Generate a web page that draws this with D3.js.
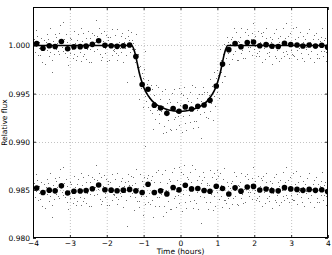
<!DOCTYPE html>
<html><head><meta charset="utf-8">
<script src="https://cdn.jsdelivr.net/npm/d3@7"></script>
<style>
body{margin:0;background:#fff}
svg{display:block}
text{font-family:"DejaVu Sans",sans-serif}
</style>
</head><body>
<svg id="c" width="332" height="255"></svg>
<script>
// ---- data ----
const binTimes = [-3.90,-3.73,-3.56,-3.40,-3.23,-3.06,-2.89,-2.72,-2.56,-2.39,-2.22,-2.05,-1.88,-1.72,-1.55,-1.38,
  -1.21,-1.04,-0.88,-0.71,-0.54,-0.37,-0.20,-0.04,0.13,0.30,0.47,0.64,0.80,0.97,1.14,1.31,
  1.48,1.64,1.81,1.98,2.15,2.32,2.48,2.65,2.82,2.99,3.16,3.32,3.49,3.66,3.83,3.99];
// binned relative flux (light curve)
const binFlux = [1.00020,0.99972,0.99997,0.99990,1.00042,0.99967,0.99986,0.99988,0.99993,1.00012,1.00050,1.00002,0.99997,0.99991,0.99997,1.00005,
  0.99885,0.99595,0.99545,0.99380,0.99350,0.99295,0.99345,0.99317,0.99362,0.99340,0.99368,0.99382,0.99430,0.99580,0.99807,0.99957,
  1.00021,0.99987,1.00030,1.00036,0.99998,1.00009,0.99992,0.99990,1.00023,1.00010,1.00005,0.99995,1.00005,0.99995,1.00002,0.99983];
// binned residuals (offset to 0.985)
const binResid = [0.98520,0.98472,0.98497,0.98490,0.98542,0.98467,0.98486,0.98488,0.98493,0.98512,0.98550,0.98502,0.98497,0.98491,0.98497,0.98505,
  0.98490,0.98472,0.98559,0.98472,0.98490,0.98458,0.98524,0.98500,0.98548,0.98510,0.98514,0.98493,0.98486,0.98538,0.98514,0.98457,
  0.98521,0.98487,0.98530,0.98536,0.98498,0.98509,0.98492,0.98490,0.98523,0.98510,0.98505,0.98495,0.98505,0.98495,0.98502,0.98483];
// transit model
const modelTimes = [-4.00,-1.32,-1.27,-1.22,-1.17,-1.12,-1.07,-1.02,-0.95,-0.87,-0.77,-0.65,-0.50,-0.32,-0.02,
  0.28,0.46,0.61,0.73,0.83,0.91,0.98,1.03,1.08,1.13,1.18,1.23,1.28,4.00];
const modelFlux = [1.00000,1.00000,0.99965,0.99900,0.99810,0.99720,0.99650,0.99590,0.99525,0.99475,0.99425,0.99385,0.99355,0.99330,0.99315,
  0.99330,0.99355,0.99385,0.99425,0.99475,0.99525,0.99590,0.99650,0.99720,0.99810,0.99900,0.99965,1.00000,1.00000];
// unbinned scatter about each bin (units of 1e-4)
const scatterDev = [
  [5,-9,14,-3,8,-12,2,-5],[-7,11,-14,3,-2,9,-16,6],[12,-4,7,-11,18,-6,-1,-15],[-27,6,-8,13,-3,10,4,-5],
  [9,-13,17,1,-6,20,-10,3],[-4,15,-9,7,-17,2,11,-5],[8,-2,-12,16,-7,4,-14,7],[-10,13,3,-6,19,-15,6,-10],
  [14,-8,1,-13,9,-3,16,-16],[-5,7,-18,12,-1,10,-7,2],[21,-9,5,-4,13,-14,8,-20],[-12,4,15,-8,-3,11,-16,9],
  [6,-15,9,2,-10,17,-4,-5],[-3,12,-7,-14,18,-9,5,-2],[10,-6,13,-17,4,-2,8,-10],[-38,9,16,5,-7,14,-4,5],
  [14,-20,8,-6,23,-11,3,-11],[-15,19,-4,12,-23,7,16,-12],[40,-12,6,-18,10,-9,-21,4],[-8,17,-25,11,3,-14,21,-5],
  [22,-6,-16,9,-3,18,-26,2],[-13,25,4,-19,11,-7,15,-16],[7,-22,16,3,-11,20,-9,-4],[-18,10,-5,24,-14,6,19,-22],
  [12,-9,21,-17,2,-24,9,6],[-6,18,-13,7,25,-20,1,-12],[20,-15,9,-4,-21,13,-8,6],[-34,11,19,-7,14,3,-12,6],
  [9,-18,6,22,-11,-3,15,-20],[-10,14,-21,8,17,-6,11,-13],[16,-8,4,-19,10,-12,21,-12],[-9,13,-4,8,-15,6,11,-10],
  [7,-11,16,-2,-8,12,-17,3],[-14,5,10,-7,19,-3,-12,2],[11,-16,2,14,-5,8,-9,-5],[3,9,-13,20,-7,-4,6,-14],
  [-8,15,-6,-11,4,13,-17,10],[13,-3,-15,7,17,-9,2,-12],[-6,10,4,-18,8,-2,14,-10],[18,-12,-4,9,-15,5,11,-12],
  [-2,-9,16,-13,6,21,-8,-11],[9,-14,3,12,-6,-10,17,-11],[-11,6,19,-5,-15,8,-3,1],[15,-7,-12,4,10,-16,7,-1],
  [-4,12,-9,17,-13,3,-6,0],[7,-17,11,-2,14,-8,-12,7],[-13,4,9,-6,18,-11,5,-6],[10,-5,-14,13,-3,7,-9,1]
];
const xTicks = [-4,-3,-2,-1,0,1,2,3,4];
const xTickLabels = ["\u22124","\u22123","\u22122","\u22121","0","1","2","3","4"];
const yTicks = [0.980,0.985,0.990,0.995,1.000];
const yTickLabels = ["0.980","0.985","0.990","0.995","1.000"];
const xLabel = "Time (hours)";
const yLabel = "Relative flux";

// ---- layout ----
const L = 33, R = 328, T = 7, B = 238;
const x = d3.scaleLinear().domain([-4,4]).range([L,R]);
const y = d3.scaleLinear().domain([0.980,1.004]).range([B,T]);
const svg = d3.select("#c");
svg.append("rect").attr("width",332).attr("height",255).attr("fill","#fff");
svg.append("defs").append("clipPath").attr("id","clip")
  .append("rect").attr("x",L).attr("y",T).attr("width",R-L).attr("height",B-T);

// grid
const grid = svg.append("g").attr("stroke","#9a9a9a").attr("stroke-width",0.6).attr("stroke-dasharray","1,2");
grid.selectAll(".gx").data(xTicks.slice(1,-1)).join("line")
  .attr("x1",d=>x(d)+0.5).attr("x2",d=>x(d)+0.5).attr("y1",T).attr("y2",B);
grid.selectAll(".gy").data(yTicks.slice(1)).join("line")
  .attr("y1",d=>Math.round(y(d))+0.5).attr("y2",d=>Math.round(y(d))+0.5).attr("x1",L).attr("x2",R);

// scatter
const plot = svg.append("g").attr("clip-path","url(#clip)");
const raw = [];
scatterDev.forEach((devs,k)=>{
  const step = 0.168;
  devs.forEach((d,j)=>{
    const t = binTimes[k] + (j-3.5)/devs.length*step;
    raw.push({t, f: binFlux[k] + d*1e-4});
    raw.push({t, f: binResid[k] + d*1e-4});
  });
});
plot.selectAll(".raw").data(raw).join("rect")
  .attr("x",d=>Math.round(x(d.t))).attr("y",d=>Math.round(y(d.f)))
  .attr("width",1).attr("height",1).attr("fill","#333").attr("opacity",0.7);

// model line
const model = modelTimes.map((t,i)=>({t,f:modelFlux[i]}));
plot.append("path").datum(model)
  .attr("d",d3.line().x(d=>x(d.t)).y(d=>y(d.f)).curve(d3.curveMonotoneX))
  .attr("fill","none").attr("stroke","#000").attr("stroke-width",1.6);

// binned points
const bins = binTimes.map((t,i)=>({t,f:binFlux[i]}));
const bins2 = binTimes.map((t,i)=>({t,f:binResid[i]}));
plot.selectAll(".b1").data(bins.concat(bins2)).join("circle")
  .attr("cx",d=>x(d.t)).attr("cy",d=>y(d.f)).attr("r",2.8).attr("fill","#000");

// axes
const fs = "7.5px";
const ax = svg.append("g").attr("transform",`translate(0,${B})`)
  .call(d3.axisBottom(x).tickValues(xTicks).tickFormat((d,i)=>xTickLabels[i]).tickSizeInner(-3).tickSizeOuter(0).tickPadding(3));
const axT = svg.append("g").attr("transform",`translate(0,${T})`)
  .call(d3.axisTop(x).tickValues(xTicks).tickFormat("").tickSizeInner(-3).tickSizeOuter(0));
const ay = svg.append("g").attr("transform",`translate(${L},0)`)
  .call(d3.axisLeft(y).tickValues(yTicks).tickFormat((d,i)=>yTickLabels[i]).tickSizeInner(-3).tickSizeOuter(0).tickPadding(3));
const ayR = svg.append("g").attr("transform",`translate(${R},0)`)
  .call(d3.axisRight(y).tickValues(yTicks).tickFormat("").tickSizeInner(-3).tickSizeOuter(0));
[ax,axT,ay,ayR].forEach(g=>{
  g.select(".domain").remove();
  g.selectAll("text").attr("font-size",fs).attr("font-family","DejaVu Sans").attr("fill","#000");
  g.selectAll("line").attr("stroke","#000").attr("stroke-width",0.8);
});

// frame
svg.append("rect").attr("x",L+0.5).attr("y",T+0.5).attr("width",R-L-1).attr("height",B-T-1)
  .attr("fill","none").attr("stroke","#000").attr("stroke-width",1);

// labels
svg.append("text").attr("x",(L+R)/2).attr("y",254).attr("text-anchor","middle")
  .attr("font-size",fs).text(xLabel);
svg.append("text").attr("transform",`translate(6.5,${(T+B)/2}) rotate(-90)`).attr("text-anchor","middle")
  .attr("font-size",fs).text(yLabel);
</script>
</body></html>
